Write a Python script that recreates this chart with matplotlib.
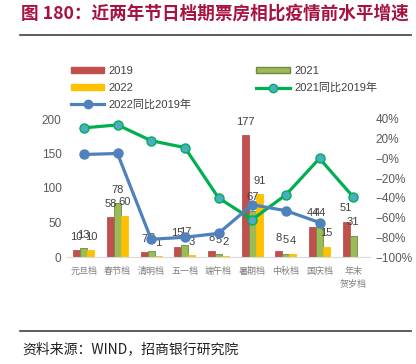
import matplotlib
matplotlib.use("Agg")
import matplotlib.pyplot as plt
import numpy as np
from matplotlib.lines import Line2D
from matplotlib.patches import Patch
from matplotlib.ticker import FuncFormatter

plt.rcParams['font.family'] = ['Liberation Sans', 'Noto Sans CJK SC', 'DejaVu Sans']

# 档期
CATS = ["元旦档", "春节档", "清明档", "五一档", "端午档", "暑期档", "中秋档", "国庆档", "年末\n贺岁档"]
# 票房 (亿元)
BOX_2019 = [10, 58, 7, 15, 8, 177, 8, 44, 51]
BOX_2021 = [13, 78, 8, 17, 5, 67, 5, 44, 31]
BOX_2022 = [10, 60, 1, 3, 2, 91, 4, 15, np.nan]
# 同比2019年
YOY_2021 = [0.31, 0.34, 0.18, 0.11, -0.40, -0.62, -0.37, 0.00, -0.39]
YOY_2022 = [0.04, 0.05, -0.82, -0.80, -0.76, -0.47, -0.53, -0.65, np.nan]

C19, C21, C22 = "#C0504D", "#9BBB59", "#FFC000"
CGREEN, CBLUE, CTEAL = "#00B050", "#4F81BD", "#4BACC6"
TXT = "#404040"

W, H = 416, 364
fig = plt.figure(figsize=(W / 100, H / 100), dpi=100)
ax = fig.add_axes([67 / W, 1 - 257 / H, 303 / W, 138 / H])
ax2 = ax.twinx()

x = np.arange(len(CATS))
bw = 0.21
series = [(BOX_2019, C19, "2019", None), (BOX_2021, C21, "2021", "#71893F"), (BOX_2022, C22, "2022", None)]
for i, (vals, col, lab, ec) in enumerate(series):
    xs = x + (i - 1) * bw
    ax.bar(xs, vals, bw, color=col, edgecolor=ec if ec else col, linewidth=0.6, zorder=2)
    for xi, v in zip(xs, vals):
        if np.isnan(v):
            continue
        ax.annotate(f"{v:.0f}", (xi, v), xytext=(0, 6), textcoords="offset points",
                    ha="center", va="bottom", fontsize=8, color=TXT)

ax.set_xlim(-0.5, len(CATS) - 0.5)
ax.set_ylim(0, 200)
ax.set_yticks(range(0, 201, 50))
ax.set_xticks(x)
ax.tick_params(axis="y", length=0, labelsize=8.5, colors="#595959", pad=4)
ax.tick_params(axis="x", length=0, pad=7)
ax.set_xticklabels(CATS, fontsize=6.5, color="#7F7F7F", family=['Noto Sans CJK SC'], linespacing=1.6)
for s in ["top", "left", "right"]:
    ax.spines[s].set_visible(False)
ax.spines["bottom"].set_color("#D9D9D9")

ax2.plot(x, YOY_2021, color=CGREEN, lw=2.3, marker="o", ms=6.5, mfc=CTEAL, mec=CGREEN, mew=1, zorder=3)
ax2.plot(x, YOY_2022, color=CBLUE, lw=2.3, marker="o", ms=6.5, mfc=CBLUE, mec=CBLUE, zorder=3)
ax2.set_ylim(-1.0, 0.4)
ax2.set_yticks(np.arange(-1.0, 0.41, 0.2))
ax2.yaxis.set_major_formatter(FuncFormatter(lambda v, p: f"{v * 100:.0f}%".replace("-", "\u2212")))
ax2.tick_params(axis="y", length=0, labelsize=8.5, colors="#595959", pad=4)
for s in ["top", "left", "right", "bottom"]:
    ax2.spines[s].set_visible(False)

handles = [
    Patch(color=C19, label="2019"),
    Patch(color=C22, label="2022"),
    Line2D([], [], color=CBLUE, lw=2.3, marker="o", ms=6, mfc=CBLUE, label="2022同比2019年"),
    Patch(facecolor=C21, edgecolor="#71893F", label="2021"),
    Line2D([], [], color=CGREEN, lw=2.3, marker="o", ms=6, mfc=CTEAL, mec=CGREEN, label="2021同比2019年"),
]
fig.legend(handles=handles, ncol=2, loc="upper left", bbox_to_anchor=(61 / W, 1 - 56 / H),
           frameon=False, fontsize=8, labelcolor=TXT, handlelength=3, handleheight=0.45,
           columnspacing=5.8, labelspacing=0.6, handletextpad=0.4)

fig.text(21 / W, 1 - 14 / H, "图 180：近两年节日档期票房相比疫情前水平增速", fontsize=12.7,
         fontweight="bold", color="#A8123E", va="center", ha="left", family=['Noto Sans CJK SC'])
fig.add_artist(Line2D([20 / W, 411 / W], [1 - 35 / H, 1 - 35 / H], color="#404040", lw=1.2))
fig.add_artist(Line2D([20 / W, 411 / W], [1 - 331 / H, 1 - 331 / H], color="#404040", lw=1.2))
fig.text(22 / W, 1 - 349 / H, "资料来源：WIND，招商银行研究院", fontsize=10, color="#202020",
         va="center", ha="left", family=['Noto Sans CJK SC'])

fig.savefig("out.png", dpi=100)
